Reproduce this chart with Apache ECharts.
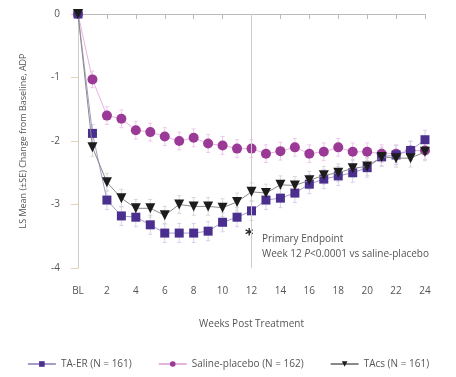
<!DOCTYPE html>
<html>
<head>
<meta charset="utf-8">
<script src="https://cdn.jsdelivr.net/npm/echarts@6/dist/echarts.min.js"></script>
<style>html,body{margin:0;padding:0;background:#fff}#c{width:456px;height:377px}</style>
</head>
<body>
<div id="c"></div>
<script>
var weeks = [0,1,2,3,4,5,6,7,8,9,10,11,12,13,14,15,16,17,18,19,20,21,22,23,24];
var taER = [0,-1.88,-2.93,-3.18,-3.2,-3.32,-3.45,-3.45,-3.45,-3.42,-3.28,-3.2,-3.1,-2.93,-2.9,-2.82,-2.68,-2.6,-2.55,-2.5,-2.42,-2.25,-2.22,-2.15,-1.98];
var taERse = [0,0.14,0.15,0.15,0.15,0.15,0.15,0.15,0.15,0.15,0.15,0.15,0.15,0.15,0.15,0.15,0.15,0.15,0.15,0.15,0.15,0.15,0.15,0.15,0.15];
var saline = [0,-1.03,-1.6,-1.65,-1.83,-1.86,-1.93,-2.0,-1.95,-2.04,-2.07,-2.12,-2.12,-2.2,-2.16,-2.1,-2.2,-2.17,-2.1,-2.17,-2.17,-2.2,-2.2,-2.15,-2.15];
var salineSe = [0,0.13,0.14,0.14,0.14,0.14,0.14,0.14,0.14,0.14,0.14,0.14,0.14,0.14,0.14,0.14,0.14,0.14,0.14,0.14,0.14,0.14,0.14,0.14,0.14];
var tacs = [0,-2.1,-2.65,-2.9,-3.06,-3.06,-3.17,-3.0,-3.03,-3.03,-3.05,-2.96,-2.8,-2.82,-2.69,-2.7,-2.62,-2.54,-2.5,-2.43,-2.4,-2.25,-2.27,-2.27,-2.17];
var tacsSe = [0,0.14,0.14,0.14,0.14,0.14,0.14,0.14,0.14,0.14,0.14,0.14,0.14,0.14,0.14,0.14,0.14,0.14,0.14,0.14,0.14,0.14,0.14,0.14,0.14];
var seriesNames = ['TA-ER (N = 161)', 'Saline-placebo (N = 162)', 'TAcs (N = 161)'];
var xTickLabels = {0:'BL'};
var endpointWeek = 12;

function pairs(v){ return weeks.map(function(w,i){ return [w, v[i]]; }); }
function errData(v, se){ return weeks.map(function(w,i){ return [w, v[i]-se[i], v[i]+se[i]]; }); }
function errSeries(v, se, color){
  return {
    type:'custom', silent:true, z:1,
    data: errData(v, se),
    renderItem: function(params, api){
      var lo = api.coord([api.value(0), api.value(1)]);
      var hi = api.coord([api.value(0), api.value(2)]);
      var c = 2;
      return {type:'group', children:[
        {type:'line', shape:{x1:lo[0],y1:lo[1],x2:hi[0],y2:hi[1]}, style:{stroke:color, lineWidth:1}},
        {type:'line', shape:{x1:lo[0]-c,y1:lo[1],x2:lo[0]+c,y2:lo[1]}, style:{stroke:color, lineWidth:1}},
        {type:'line', shape:{x1:hi[0]-c,y1:hi[1],x2:hi[0]+c,y2:hi[1]}, style:{stroke:color, lineWidth:1}}
      ]};
    }
  };
}

var font = 'Open Sans';
var chart = echarts.init(document.getElementById('c'));
chart.setOption({
  animation:false,
  textStyle:{fontFamily:font},
  grid:{left:78, right:31, top:14, bottom:109},
  legend:{
    bottom:3, left:'center', itemGap:26, itemWidth:28, itemHeight:7,
    textStyle:{fontSize:10, color:'#555', fontFamily:font},
    data: seriesNames
  },
  xAxis:{
    type:'value', min:0, max:24, interval:2,
    name:'Weeks Post Treatment', nameLocation:'middle', nameGap:51,
    nameTextStyle:{fontSize:10, color:'#555'},
    axisLine:{show:true, lineStyle:{color:'#bbb'}},
    axisTick:{show:true, length:5, lineStyle:{color:'#bbb'}},
    axisLabel:{fontSize:10, color:'#555', margin:18, formatter:function(v){ return xTickLabels[v] !== undefined ? xTickLabels[v] : String(v); }},
    splitLine:{show:false}
  },
  yAxis:{
    type:'value', min:-4, max:0, interval:1,
    name:'LS Mean (±SE) Change from Baseline, ADP', nameLocation:'middle', nameGap:50,
    nameTextStyle:{fontSize:9, color:'#555'},
    axisLine:{show:true, lineStyle:{color:'#ccc'}},
    axisTick:{show:true, length:7, lineStyle:{color:'#e5d2b0'}},
    axisLabel:{fontSize:10, color:'#555', margin:18},
    splitLine:{show:false}
  },
  graphic:[
    {type:'text', left:245, top:228, style:{text:'*', font:'bold 16px "DejaVu Sans"', fill:'#222'}},
    {type:'text', left:262, top:234, style:{text:'Primary Endpoint', font:'10px "Open Sans"', fill:'#555'}},
    {type:'text', left:262, top:249, style:{rich:{n:{font:'10px "Open Sans"', fill:'#555'}, i:{font:'italic 10px "Open Sans"', fill:'#555'}}, text:'{n|Week 12 }{i|P}{n|<0.0001 vs saline-placebo}'}}
  ],
  series:[
    errSeries(saline, salineSe, '#f0c8ec'),
    errSeries(taER, taERse, '#d8d0ec'),
    errSeries(tacs, tacsSe, '#d8d8d8'),
    {
      name:seriesNames[1], type:'line', data:pairs(saline), z:3,
      symbol:'circle', symbolSize:10,
      itemStyle:{color:'#9a3a96'}, lineStyle:{color:'#e6b3de', width:1},
      markLine:{silent:true, symbol:'none', label:{show:false}, lineStyle:{color:'#ccc', width:1, type:'solid'}, data:[{xAxis:endpointWeek}]}
    },
    {
      name:seriesNames[0], type:'line', data:pairs(taER), z:4,
      symbol:'rect', symbolSize:9,
      itemStyle:{color:'#4b2f8e'}, lineStyle:{color:'#a79cc8', width:1}
    },
    {
      name:seriesNames[2], type:'line', data:pairs(tacs), z:5,
      symbol:'triangle', symbolRotate:180, symbolSize:10,
      itemStyle:{color:'#1c1c1c'}, lineStyle:{color:'#8a8a8a', width:1}
    }
  ]
});
</script>
</body>
</html>
